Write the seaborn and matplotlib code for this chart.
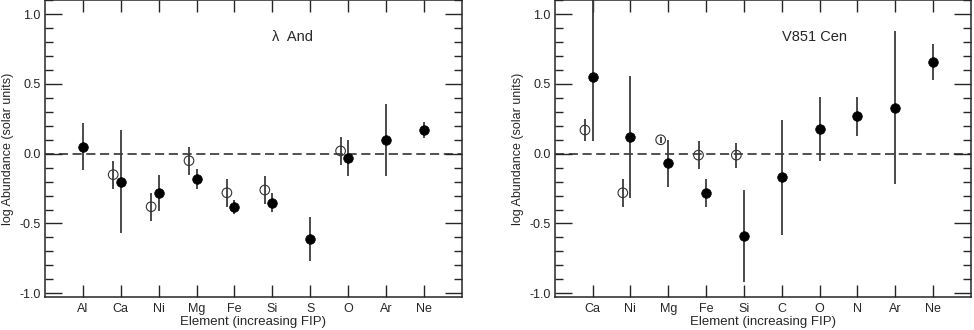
import numpy as np
import pandas as pd
import matplotlib
matplotlib.use("Agg")
import matplotlib.pyplot as plt
import seaborn as sns
from matplotlib.ticker import MultipleLocator

# lambda And: filled points (one per element) and open points (offset left)
and_elements = ["Al", "Ca", "Ni", "Mg", "Fe", "Si", "S", "O", "Ar", "Ne"]
and_val = [0.05, -0.20, -0.28, -0.18, -0.38, -0.35, -0.61, -0.03, 0.10, 0.17]
and_err = [0.17, 0.37, 0.13, 0.07, 0.05, 0.07, 0.16, 0.13, 0.26, 0.06]
and_open_el = ["Ca", "Ni", "Mg", "Fe", "Si", "O"]
and_open_val = [-0.15, -0.38, -0.05, -0.28, -0.26, 0.02]
and_open_err = [0.10, 0.10, 0.10, 0.10, 0.10, 0.10]

# V851 Cen
cen_elements = ["Ca", "Ni", "Mg", "Fe", "Si", "C", "O", "N", "Ar", "Ne"]
cen_val = [0.55, 0.12, -0.07, -0.28, -0.59, -0.17, 0.18, 0.27, 0.33, 0.66]
cen_err_lo = [0.46, 0.44, 0.17, 0.10, 0.33, 0.41, 0.23, 0.14, 0.55, 0.13]
cen_err_hi = [0.60, 0.44, 0.17, 0.10, 0.33, 0.41, 0.23, 0.14, 0.55, 0.13]
cen_open_el = ["Ca", "Ni", "Mg", "Fe", "Si"]
cen_open_val = [0.17, -0.28, 0.10, -0.01, -0.01]
cen_open_err = [0.08, 0.10, 0.02, 0.10, 0.09]

sns.set_theme(style="ticks")
plt.rcParams["font.family"] = ["Liberation Sans", "DejaVu Sans"]
plt.rcParams["axes.linewidth"] = 1.1

ERR_COL = "#3c3c3c"


def panel(ax, elements, val, err_lo, err_hi, open_el, open_val, open_err, name):
    pos = {e: i for i, e in enumerate(elements)}
    df = pd.DataFrame({"x": np.arange(len(elements)), "y": val})
    dfo = pd.DataFrame({"x": [pos[e] - 0.2 for e in open_el], "y": open_val})

    ax.axhline(0, color="#222222", lw=1.1, ls=(0, (6, 3)), zorder=1)
    ax.errorbar(df["x"], df["y"], yerr=[err_lo, err_hi], fmt="none",
                ecolor=ERR_COL, elinewidth=1.3, capsize=0, zorder=2)
    ax.errorbar(dfo["x"], dfo["y"], yerr=open_err, fmt="none",
                ecolor=ERR_COL, elinewidth=1.3, capsize=0, zorder=2)
    sns.scatterplot(data=df, x="x", y="y", ax=ax, s=48, color="black",
                    edgecolor="black", linewidth=0.5, zorder=3, legend=False)
    sns.scatterplot(data=dfo, x="x", y="y", ax=ax, s=48, facecolor="none",
                    edgecolor="#333333", linewidth=0.8, zorder=3, legend=False)

    ax.set_xlim(-1, 10)
    ax.set_ylim(-1.027, 1.102)
    ax.set_xticks(np.arange(len(elements)))
    ax.set_xticklabels(elements)
    ax.yaxis.set_major_locator(MultipleLocator(0.5))
    ax.yaxis.set_minor_locator(MultipleLocator(0.1))
    ax.set_yticks([-1.0, -0.5, 0.0, 0.5, 1.0])
    ax.set_yticklabels(["-1.0", "-0.5", "0.0", "0.5", "1.0"])
    ax.tick_params(axis="y", which="major", direction="in", length=12,
                   width=1, left=True, right=True, labelsize=9, pad=3)
    ax.tick_params(axis="y", which="minor", direction="in", length=6,
                   width=1, left=True, right=True)
    ax.tick_params(axis="x", which="major", direction="in", length=8.5,
                   width=1, top=True, bottom=True, labelsize=9, pad=4)
    ax.tick_params(axis="x", which="minor", bottom=False, top=False)
    ax.set_xlabel("Element (increasing FIP)", fontsize=9.5, labelpad=1)
    ax.set_ylabel("log Abundance (solar units)", fontsize=9, labelpad=4)
    ax.text(5.0, 0.84, name, fontsize=10.5, va="center", ha="left")


fig = plt.figure(figsize=(9.74, 3.3), dpi=100)
ax1 = fig.add_axes([0.0462, 0.1, 0.428, 0.9])
ax2 = fig.add_axes([0.5695, 0.1, 0.4274, 0.9])

panel(ax1, and_elements, and_val, and_err, and_err,
      and_open_el, and_open_val, and_open_err, "λ  And")
panel(ax2, cen_elements, cen_val, cen_err_lo, cen_err_hi,
      cen_open_el, cen_open_val, cen_open_err, "V851 Cen")

fig.savefig("out.png", dpi=100)
